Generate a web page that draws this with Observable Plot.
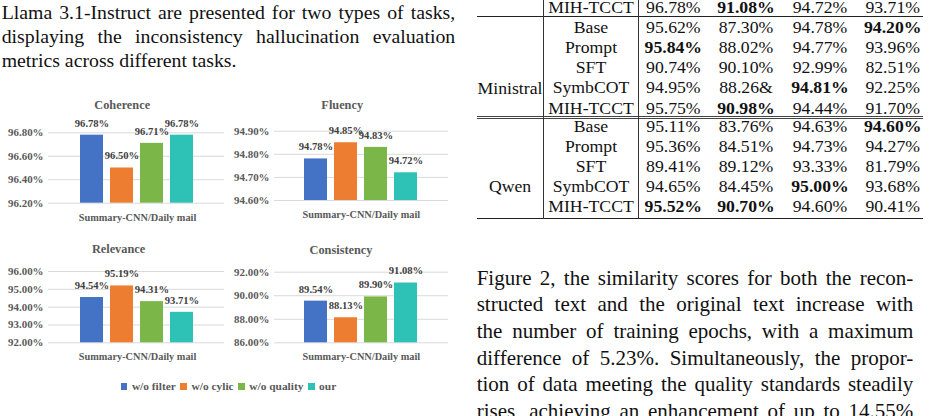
<!DOCTYPE html>
<html>
<head>
<meta charset="utf-8">
<script src="https://cdn.jsdelivr.net/npm/d3@7"></script>
<script src="https://cdn.jsdelivr.net/npm/@observablehq/plot@0.6"></script>
</head>
<body style="margin:0;background:#fff">
<div id="page" style="position:relative;width:930px;height:416px;overflow:hidden;background:#fff;color:#111"></div>
<script>
// ---------------- data ----------------
const leftText = [
  "Llama 3.1-Instruct are presented for two types of tasks,",
  "displaying the inconsistency hallucination evaluation",
  "metrics across different tasks."
];
const rightText = [
  "Figure 2, the similarity scores for both the recon-",
  "structed text and the original text increase with",
  "the number of training epochs, with a maximum",
  "difference of 5.23%. Simultaneously, the propor-",
  "tion of data meeting the quality standards steadily",
  "rises, achieving an enhancement of up to 14.55%"
];

const series = ["w/o filter", "w/o cylic", "w/o quality", "our"];
const colors = ["#4472C4", "#ED7D31", "#7AB648", "#2EC1B5"];
const task = "Summary-CNN/Daily mail";

const coherence = [96.78, 96.50, 96.71, 96.78];
const fluency = [94.78, 94.85, 94.83, 94.72];
const relevance = [94.54, 95.19, 94.31, 93.71];
const consistency = [89.54, 88.13, 89.90, 91.08];

const coherenceTicks = [96.2, 96.4, 96.6, 96.8];
const fluencyTicks = [94.6, 94.7, 94.8, 94.9];
const relevanceTicks = [92, 93, 94, 95, 96];
const consistencyTicks = [86, 88, 90, 92];

// table
const tableMethods = ["Base", "Prompt", "SFT", "SymbCOT", "MIH-TCCT"];
const tableGroups = ["Ministral", "Qwen"];
const prevRowMethod = "MIH-TCCT";
const prevRowValues = ["96.78%", "91.08%", "94.72%", "93.71%"];
const prevRowBold = [1];
const ministralValues = [
  ["95.62%", "87.30%", "94.78%", "94.20%"],
  ["95.84%", "88.02%", "94.77%", "93.96%"],
  ["90.74%", "90.10%", "92.99%", "82.51%"],
  ["94.95%", "88.26&", "94.81%", "92.25%"],
  ["95.75%", "90.98%", "94.44%", "91.70%"]
];
const ministralBold = [[3], [0], [], [2], [1]];
const qwenValues = [
  ["95.11%", "83.76%", "94.63%", "94.60%"],
  ["95.36%", "84.51%", "94.73%", "94.27%"],
  ["89.41%", "89.12%", "93.33%", "81.79%"],
  ["94.65%", "84.45%", "95.00%", "93.68%"],
  ["95.52%", "90.70%", "94.60%", "90.41%"]
];
const qwenBold = [[3], [], [], [2], [0, 1]];

// ---------------- layout helpers ----------------
const SERIF = '"Liberation Serif", Tinos, serif';
const page = document.getElementById("page");
page.style.fontFamily = SERIF;
function el(parent, style, text) {
  const e = document.createElement("div");
  e.style.position = "absolute";
  e.style.fontFamily = SERIF;
  for (const k in style) e.style[k] = style[k];
  if (text != null) e.textContent = text;
  parent.appendChild(e);
  return e;
}

// left paragraph
leftText.forEach((t, i) => {
  const full = i < leftText.length - 1;
  el(page, {
    left: "1.7px", top: (0 + i * 24.2) + "px", width: "453.5px",
    fontSize: "19.8px", lineHeight: "24px",
    textAlign: full ? "justify" : "left", textAlignLast: full ? "justify" : "left"
  }, t);
});

// right paragraph
rightText.forEach((t, i) => {
  el(page, {
    left: "476.7px", top: (264.5 + i * 26.7) + "px", width: "436.6px",
    fontSize: "21px", lineHeight: "26.7px", textAlign: "justify", textAlignLast: "justify"
  }, t);
});

// table
const colX = [673.3, 746, 820, 892.7];
const methodX = 591;
const groupX = 510;
function cell(cx, cy, text, bold) {
  el(page, { left: (cx - 50) + "px", top: (cy - 10) + "px", width: "100px", textAlign: "center",
    lineHeight: "20px", fontSize: "17.7px", whiteSpace: "nowrap", fontWeight: bold ? "bold" : "normal" }, text);
}
function row(cy, method, values, bold) {
  cell(methodX, cy, method, false);
  values.forEach((v, j) => cell(colX[j], cy, v, bold.includes(j)));
}
row(6.6, prevRowMethod, prevRowValues, prevRowBold);
tableMethods.forEach((m, i) => row(26.9 + i * 20.15, m, ministralValues[i], ministralBold[i]));
tableMethods.forEach((m, i) => row(126.2 + i * 20.0, m, qwenValues[i], qwenBold[i]));
cell(groupX, 87.5, tableGroups[0], false);
cell(groupX, 186.4, tableGroups[1], false);
function hline(y, color) { el(page, { left: "476.7px", width: "446.6px", top: y + "px", height: "0px", borderTop: "1.2px solid " + (color || "#222") }); }
function vline(x) { el(page, { left: x + "px", top: "0px", width: "0px", height: "218.5px", borderLeft: "1.2px solid #333" }); }
hline(16.2); hline(116.0, "#444"); hline(118.2, "#444"); hline(217.8);
vline(542.8); vline(637.8);

// ---------------- charts ----------------
function panel(cfg) {
  const { title, values, ticks, left, top, width, height, frameL, frameR, barL, barR, yTop, yBottom, titleX, titleY } = cfg;
  const data = series.map((s, i) => ({ series: s, value: values[i] }));
  const lo = ticks[0], hi = ticks[ticks.length - 1];
  const fmt = d => d.toFixed(2) + "%";
  const chart = Plot.plot({
    width, height,
    marginLeft: frameL - left,
    marginRight: left + width - frameR,
    marginTop: yTop - top,
    marginBottom: top + height - yBottom,
    style: { fontFamily: SERIF, background: "transparent", overflow: "visible", fontSize: "11px" },
    x: { type: "band", domain: series, range: [barL - left, barR - left], paddingInner: 0.22, paddingOuter: 0, axis: null },
    y: { domain: [lo, hi], axis: null },
    color: { domain: series, range: colors },
    marks: [
      Plot.gridY(ticks, { stroke: "#d9d9d9", strokeOpacity: 1, strokeWidth: 1 }),
      Plot.axisY(ticks, { tickSize: 0, tickPadding: 5, tickFormat: fmt, label: null,
        fill: "#595959", fontWeight: "bold", fontSize: 10.9 }),
      Plot.barY(data, { x: "series", y1: lo, y2: "value", fill: "series" }),
      Plot.text(data, { x: "series", y: "value", text: d => fmt(d.value), dy: -12,
        fill: "#404040", fontWeight: "bold", fontSize: 10.6, lineAnchor: "middle" }),
      Plot.text([title], { frameAnchor: "top-left", dx: titleX - frameL, dy: titleY - yTop,
        textAnchor: "middle", lineAnchor: "middle", fill: "#595959", fontWeight: "bold", fontSize: 12.3 }),
      Plot.text([task], { frameAnchor: "bottom-left", dx: (barL + barR) / 2 - frameL, dy: 14.2,
        textAnchor: "middle", lineAnchor: "middle", fill: "#595959", fontWeight: "bold", fontSize: 10.3 })
    ]
  });
  chart.style.fontFamily = SERIF;
  chart.querySelectorAll("text").forEach(t => t.setAttribute("font-family", SERIF));
  const wrap = el(page, { left: left + "px", top: top + "px", width: width + "px", height: height + "px" });
  wrap.appendChild(chart);
}

panel({ title: "Coherence", values: coherence, ticks: coherenceTicks,
  left: 0, top: 90, width: 226, height: 135, frameL: 48, frameR: 224, barL: 79, barR: 195,
  yTop: 132.3, yBottom: 202.7, titleX: 121.7, titleY: 105 });
panel({ title: "Fluency", values: fluency, ticks: fluencyTicks,
  left: 226, top: 90, width: 226, height: 135, frameL: 274, frameR: 448, barL: 302.7, barR: 419,
  yTop: 130.7, yBottom: 200, titleX: 341.7, titleY: 105 });
panel({ title: "Relevance", values: relevance, ticks: relevanceTicks,
  left: 0, top: 235, width: 226, height: 135, frameL: 48, frameR: 224, barL: 79, barR: 195,
  yTop: 271, yBottom: 342.3, titleX: 118, titleY: 249 });
panel({ title: "Consistency", values: consistency, ticks: consistencyTicks,
  left: 226, top: 235, width: 226, height: 135, frameL: 274, frameR: 448, barL: 302.7, barR: 419,
  yTop: 271.7, yBottom: 342.3, titleX: 340.5, titleY: 249.3 });

// legend
const legend = el(page, { left: "120.7px", top: "378px", height: "16px", display: "flex", alignItems: "center",
  fontWeight: "bold", fontSize: "11.4px", color: "#595959", whiteSpace: "nowrap" });
series.forEach((s, i) => {
  const sw = document.createElement("span");
  Object.assign(sw.style, { display: "inline-block", width: "6.7px", height: "7px", marginRight: "4.5px", background: colors[i] });
  const lab = document.createElement("span");
  Object.assign(lab.style, { marginRight: "4.5px", fontFamily: SERIF });
  lab.textContent = s;
  legend.appendChild(sw); legend.appendChild(lab);
});
</script>
</body>
</html>
